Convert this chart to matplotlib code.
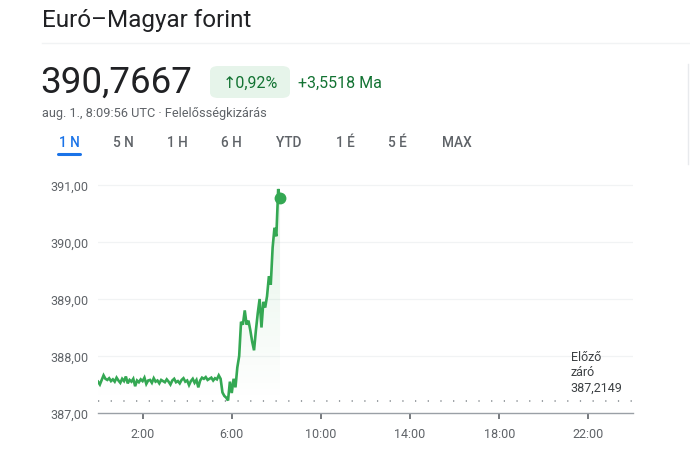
import numpy as np
import matplotlib
matplotlib.use("Agg")
import matplotlib.pyplot as plt
from matplotlib.lines import Line2D
from matplotlib.patches import FancyBboxPatch

plt.rcParams['font.family'] = ['Roboto', 'DejaVu Sans']

# ---- data ----
title = "Euró–Magyar forint"
price_text = "390,7667"
change_pct = "↑0,92%"
change_abs = "+3,5518 Ma"
subtitle = "aug. 1., 8:09:56 UTC · Felelősségkizárás"
tabs = ["1 N", "5 N", "1 H", "6 H", "YTD", "1 É", "5 É", "MAX"]
prev_close = 387.2149
prev_label = "Előző\nzáró\n387,2149"
yticks = [387, 388, 389, 390, 391]
ytick_labels = ["387,00", "388,00", "389,00", "390,00", "391,00"]
xticks = [2, 6, 10, 14, 18, 22]
xtick_labels = ["2:00", "6:00", "10:00", "14:00", "18:00", "22:00"]
step_minutes = 5
values = [
    387.55, 387.50, 387.58, 387.66, 387.60, 387.58, 387.61, 387.56, 387.59, 387.55, 387.62, 387.57,
    387.53, 387.60, 387.56, 387.64, 387.52, 387.58, 387.55, 387.60, 387.47, 387.57, 387.54, 387.59,
    387.56, 387.62, 387.51, 387.57, 387.58, 387.53, 387.61, 387.55, 387.57, 387.52, 387.58, 387.56,
    387.54, 387.59, 387.55, 387.50, 387.57, 387.60, 387.54, 387.56, 387.52, 387.58, 387.61, 387.55,
    387.57, 387.49, 387.56, 387.60, 387.53, 387.58, 387.45, 387.57, 387.62, 387.60, 387.63, 387.58,
    387.60, 387.62, 387.57, 387.61, 387.59, 387.66, 387.60, 387.36, 387.30, 387.27, 387.22, 387.55,
    387.35, 387.60, 387.45, 387.80, 388.00, 388.60, 388.55, 388.80, 388.55, 388.62, 388.45, 388.25,
    388.10, 388.45, 388.75, 389.00, 388.50, 388.95, 388.85, 389.05, 389.40, 389.25, 389.90, 390.25,
    390.10, 390.93, 390.77,
]

green = "#34a853"
t = np.arange(len(values)) * step_minutes / 60.0
v = np.array(values)

fig = plt.figure(figsize=(6.9, 4.6), dpi=100)
W, H = 690, 460

def fx(px):
    return px / W

def fy(py):
    return 1 - py / H

# header
fig.text(fx(42), fy(21), title, fontsize=17.5, color="#202124", va="center", ha="left")
fig.add_artist(Line2D([fx(42), fx(690)], [fy(44), fy(44)], color="#f1f3f4", lw=1))
fig.text(fx(40), fy(83), price_text, fontsize=26.5, color="#202124", va="center", ha="left")
badge = FancyBboxPatch((fx(210), fy(99)), fx(80), 32 / H,
                       boxstyle="round,pad=0,rounding_size=0.012",
                       transform=fig.transFigure, facecolor="#e6f4ea", edgecolor="none")
fig.add_artist(badge)
fig.text(fx(250), fy(83), change_pct, fontsize=11.5, color="#137333", va="center", ha="center")
fig.text(fx(298), fy(83), change_abs, fontsize=11.5, color="#137333", va="center", ha="left")
fig.text(fx(42), fy(114), subtitle, fontsize=9.2, color="#5f6368", va="center", ha="left")
tab_x = [69, 123, 177, 231, 289, 345, 397, 457]
for lbl, x in zip(tabs, tab_x):
    col = "#1a73e8" if lbl == "1 N" else "#5f6368"
    fig.text(fx(x), fy(143), lbl, fontsize=9.8, color=col, va="center", ha="center",
             fontweight="medium")
fig.add_artist(Line2D([fx(58), fx(80)], [fy(155), fy(155)], color="#1a73e8", lw=2.2,
                      solid_capstyle="round"))
fig.add_artist(Line2D([fx(688), fx(688)], [fy(65), fy(165)], color="#e8eaed", lw=1))

# chart
ax = fig.add_axes([fx(98), fy(414), fx(535), (414 - 174.6) / H])
ax.set_xlim(0, 24)
ax.set_ylim(387, 391.2)
for s in ["top", "right", "left"]:
    ax.spines[s].set_visible(False)
ax.spines["bottom"].set_color("#9aa0a6")
ax.spines["bottom"].set_linewidth(1)
ax.set_yticks(yticks)
ax.set_yticklabels(ytick_labels)
ax.set_xticks(xticks)
ax.set_xticklabels(xtick_labels)
ax.tick_params(axis="y", length=0, pad=7, labelsize=9, labelcolor="#5f6368")
ax.tick_params(axis="x", length=4, width=1.2, color="#5f6368", pad=6, labelsize=9,
               labelcolor="#5f6368")
for y in yticks[1:]:
    ax.axhline(y, color="#f1f3f4", lw=0.9, zorder=0)

# gradient fill
poly = ax.fill_between(t, v, prev_close, color="none")
grad = np.linspace(0.14, 0.0, 256).reshape(-1, 1)
rgba = np.zeros((256, 1, 4))
rgba[..., 0], rgba[..., 1], rgba[..., 2] = 0x34 / 255, 0xa8 / 255, 0x53 / 255
rgba[..., 3] = grad
im = ax.imshow(rgba, extent=[0, t[-1], prev_close, v.max()], aspect="auto", origin="upper",
               zorder=1)
im.set_clip_path(poly.get_paths()[0], transform=ax.transData)
ax.set_xlim(0, 24)
ax.set_ylim(387, 391.2)

ax.plot(t, v, color=green, lw=1.9, zorder=3, solid_joinstyle="miter")
ax.plot([t[-1]], [v[-1]], "o", color=green, ms=7.5, zorder=4)
ax.axhline(prev_close, color="#80868b", lw=1.1, linestyle=(0, (0.8, 7.5)), zorder=2)
ax.text(21.2, prev_close + 0.12, prev_label, fontsize=9, color="#3c4043", ha="left",
        va="bottom", linespacing=1.25)

fig.savefig("out.png", dpi=100)
